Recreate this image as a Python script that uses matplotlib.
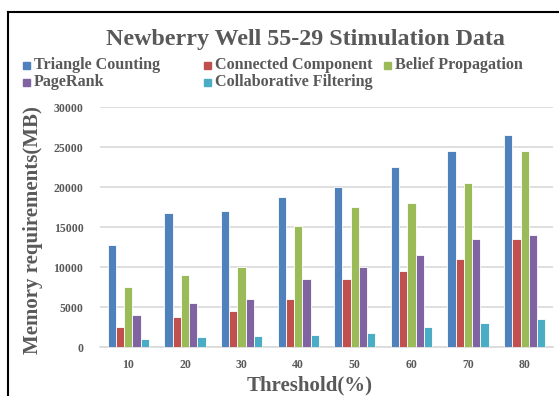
import matplotlib
matplotlib.use("Agg")
import matplotlib.pyplot as plt
import numpy as np
from matplotlib.lines import Line2D
from matplotlib.patches import Rectangle

thresholds = ["10", "20", "30", "40", "50", "60", "70", "80"]
triangle_counting = [12800, 16700, 17000, 18800, 20000, 22500, 24500, 26500]
connected_component = [2500, 3800, 4500, 6000, 8500, 9500, 11000, 13500]
belief_propagation = [7500, 9000, 10000, 15100, 17500, 18000, 20500, 24500]
pagerank = [4000, 5500, 6000, 8500, 10000, 11500, 13500, 14000]
collaborative_filtering = [1000, 1200, 1400, 1500, 1700, 2500, 3000, 3500]

series = [
    ("Triangle Counting", triangle_counting, "#4F81BD"),
    ("Connected Component", connected_component, "#C0504D"),
    ("Belief Propagation", belief_propagation, "#9BBB59"),
    ("PageRank", pagerank, "#8064A2"),
    ("Collaborative Filtering", collaborative_filtering, "#4BACC6"),
]

serif = ["Liberation Serif", "DejaVu Serif"]
gray = "#595959"
W, H = 559, 396

fig = plt.figure(figsize=(W / 100, H / 100), dpi=100)
ax = fig.add_axes([100 / W, 1 - 347 / H, 453 / W, 240 / H])

x = np.arange(len(thresholds))
bw = 0.146
for i, (name, vals, col) in enumerate(series):
    ax.bar(x + (i - 2) * bw, vals, width=bw, color=col,
           edgecolor="white", linewidth=0.6, zorder=3)

ax.set_xlim(-0.5, len(thresholds) - 0.5)
ax.set_ylim(0, 30000)
ax.set_yticks(range(0, 30001, 5000))
ax.set_xticks(x)
ax.set_xticklabels(thresholds)
ax.yaxis.grid(True, color="#D9D9D9", linewidth=1.2, zorder=0)
for s in ["top", "right", "left"]:
    ax.spines[s].set_visible(False)
ax.spines["bottom"].set_color("#D9D9D9")
ax.spines["bottom"].set_linewidth(1.2)
ax.tick_params(length=0, pad=9, labelcolor=gray)
for lab in ax.get_xticklabels() + ax.get_yticklabels():
    lab.set_fontfamily(serif)
    lab.set_fontweight("bold")
    lab.set_fontsize(8.5)
ax.tick_params(axis="y", pad=12)

fig.text(33 / W, 1 - 230 / H, "Memory requirements(MB)", rotation=90,
         ha="center", va="center", fontfamily=serif, fontweight="bold",
         fontsize=15, color=gray)
fig.text(310 / W, 1 - 385 / H, "Threshold(%)", ha="center", va="center",
         fontfamily=serif, fontweight="bold", fontsize=15, color=gray)

fig.text(305 / W, 1 - 40 / H, "Newberry Well 55-29 Stimulation Data",
         ha="center", va="center", fontfamily=serif, fontweight="bold",
         fontsize=17.3, color=gray)

# legend entries laid out in three columns, two rows
legend_pos = [(23, 65), (204, 65), (384, 65), (23, 82), (204, 82)]
for (name, vals, col), (lx, ly) in zip(series, legend_pos):
    fig.add_artist(Rectangle((lx / W, 1 - (ly + 3.5) / H), 7 / W, 7 / H,
                             transform=fig.transFigure, color=col))
    fig.text((lx + 11) / W, 1 - ly / H, name, ha="left", va="center",
             fontfamily=serif, fontweight="bold", fontsize=11.6, color=gray)

# frame around the chart
fig.add_artist(Line2D([7.5 / W, 7.5 / W], [0, 1 - 11.5 / H], color="black",
                      linewidth=1.5, transform=fig.transFigure))
fig.add_artist(Line2D([7.5 / W, 1], [1 - 11.5 / H, 1 - 11.5 / H], color="black",
                      linewidth=1.5, transform=fig.transFigure))

fig.savefig("out.png", dpi=100)
